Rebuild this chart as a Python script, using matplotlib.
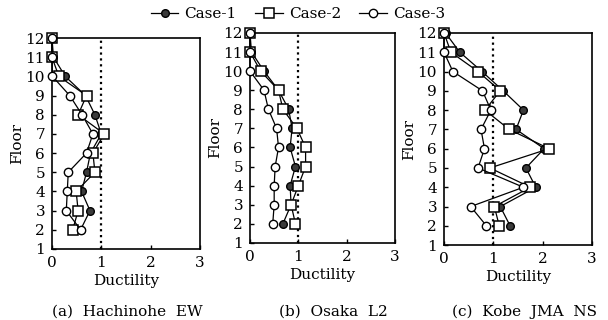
import matplotlib.pyplot as plt

plt.rcParams['font.family'] = ['DejaVu Serif']
plt.rcParams['font.size'] = 11

floors = [12, 11, 10, 9, 8, 7, 6, 5, 4, 3, 2]

# (a) Hachinohe EW
a_case1 = [0.0, 0.03, 0.27, 0.68, 0.87, 1.00, 0.78, 0.70, 0.60, 0.77, 0.58]
a_case2 = [0.0, 0.0, 0.14, 0.70, 0.53, 1.06, 0.83, 0.87, 0.49, 0.53, 0.42]
a_case3 = [0.0, 0.0, 0.01, 0.36, 0.61, 0.83, 0.70, 0.33, 0.31, 0.29, 0.58]

# (b) Osaka L2
b_case1 = [0.0, 0.03, 0.29, 0.59, 0.80, 0.87, 0.83, 0.94, 0.83, 0.85, 0.68]
b_case2 = [0.0, 0.0, 0.22, 0.59, 0.68, 0.97, 1.15, 1.15, 1.00, 0.85, 0.94]
b_case3 = [0.0, 0.0, 0.0, 0.29, 0.38, 0.55, 0.59, 0.52, 0.50, 0.50, 0.47]

# (c) Kobe JMA NS
c_case1 = [0.03, 0.32, 0.77, 1.20, 1.61, 1.46, 2.03, 1.66, 1.86, 1.14, 1.34]
c_case2 = [0.0, 0.14, 0.69, 1.14, 0.83, 1.32, 2.13, 0.93, 1.75, 1.02, 1.12]
c_case3 = [0.0, 0.0, 0.18, 0.78, 0.95, 0.75, 0.82, 0.69, 1.61, 0.54, 0.86]

panels = [
    ('(a)  Hachinohe  EW', a_case1, a_case2, a_case3),
    ('(b)  Osaka  L2', b_case1, b_case2, b_case3),
    ('(c)  Kobe  JMA  NS', c_case1, c_case2, c_case3),
]
case_labels = ['Case-1', 'Case-2', 'Case-3']

rects = [
    [0.0855, 0.222, 0.2434, 0.659],
    [0.4112, 0.241, 0.2385, 0.656],
    [0.7303, 0.234, 0.2434, 0.663],
]
caption_x = [127 / 608, 333 / 608, 525 / 608]

fig = plt.figure(figsize=(6.08, 3.2), dpi=100)

handles = None
for i, (title, c1, c2, c3) in enumerate(panels):
    ax = fig.add_axes(rects[i])
    ax.axvline(1, color='black', linestyle=':', linewidth=1.6, zorder=1)
    h1, = ax.plot(c1, floors, color='black', lw=0.9, marker='o', ms=5.5,
                  mfc='#3a3a3a', mec='black', mew=1.0, clip_on=False, zorder=3)
    h2, = ax.plot(c2, floors, color='black', lw=0.9, marker='s', ms=6.5,
                  mfc='white', mec='black', mew=1.1, clip_on=False, zorder=4)
    h3, = ax.plot(c3, floors, color='black', lw=0.9, marker='o', ms=6,
                  mfc='white', mec='black', mew=1.0, clip_on=False, zorder=5)
    handles = [h1, h2, h3]
    ax.set_xlim(0, 3)
    ax.set_ylim(1, 12)
    ax.set_xticks([0, 1, 2, 3])
    ax.set_yticks(range(1, 13))
    ax.tick_params(direction='in', length=3, width=1, pad=5)
    for s in ax.spines.values():
        s.set_linewidth(1.2)
    ax.set_xlabel('Ductility', labelpad=3)
    ax.set_ylabel('Floor', labelpad=1)
    fig.text(caption_x[i], 0.025, title, ha='center', va='center')

fig.legend(handles, case_labels, loc='upper center', bbox_to_anchor=(0.49, 1.02),
           ncol=3, frameon=False, handlelength=1.8, columnspacing=1.2,
           handletextpad=0.4)

fig.savefig('out.png', dpi=100)
plt.close()
